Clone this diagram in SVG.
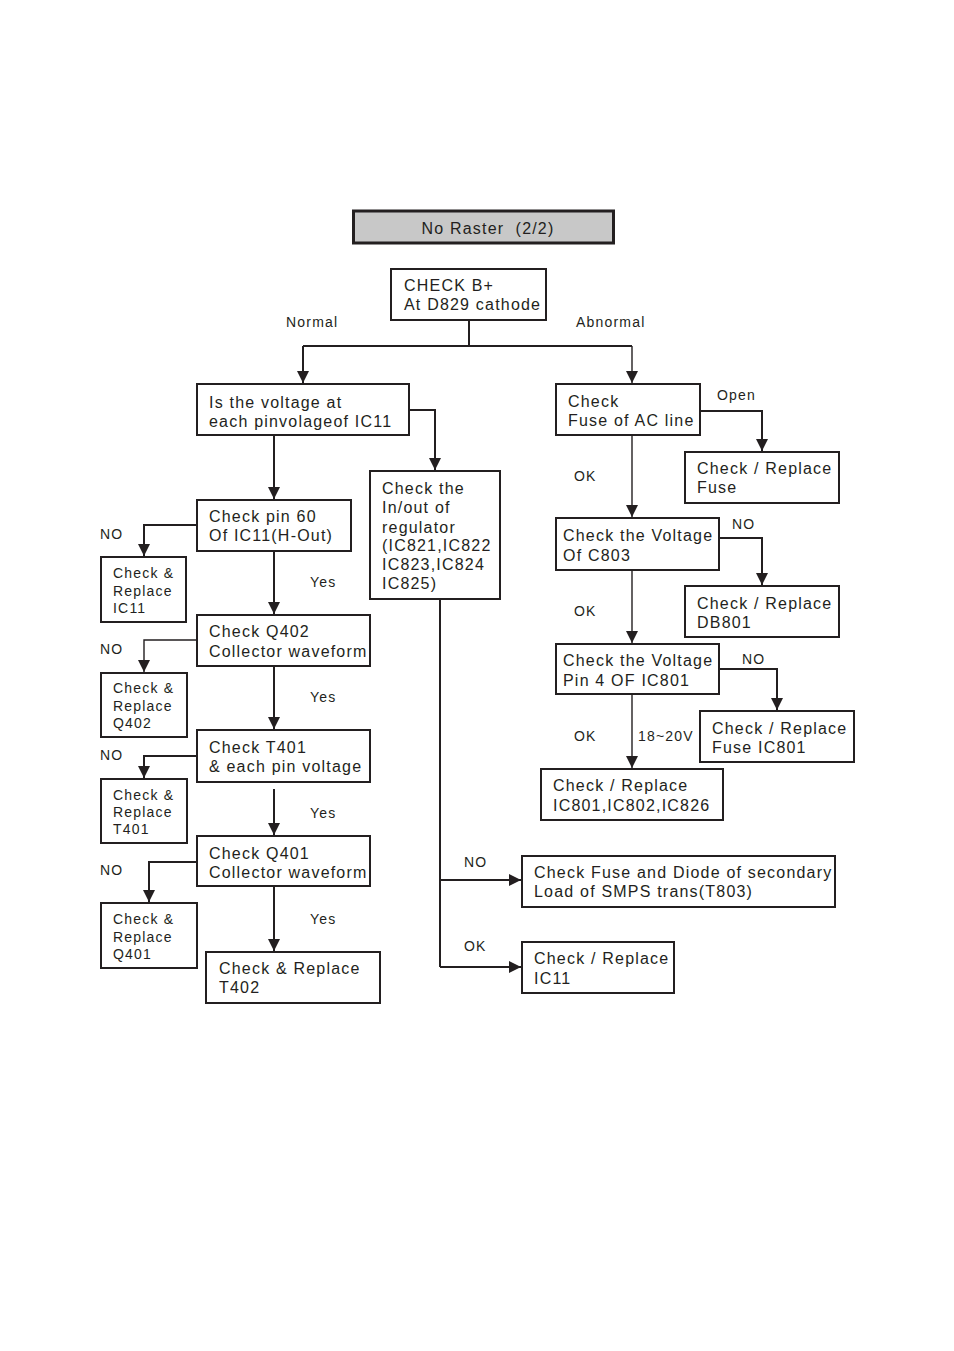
<svg xmlns="http://www.w3.org/2000/svg" width="954" height="1351" viewBox="0 0 954 1351">
<style>
.bx{fill:#fff;stroke:#231f20;stroke-width:2}
.t{font-family:"Liberation Sans",Arial,sans-serif;font-size:16px;letter-spacing:1.2px;fill:#231f20}
.s{font-family:"Liberation Sans",Arial,sans-serif;font-size:14px;letter-spacing:1.2px;fill:#231f20}
.c{fill:none;stroke:#231f20;stroke-width:2}
.cn{fill:none;stroke:#231f20;stroke-width:1.4}
</style>
<defs>
<marker id="ah" markerUnits="userSpaceOnUse" markerWidth="12" markerHeight="12" refX="12" refY="6" orient="auto">
<path d="M0,0 L12,6 L0,12 z" fill="#231f20"/>
</marker>
</defs>
<rect width="954" height="1351" fill="#fff"/>

<g id="title">
<rect x="353.5" y="211" width="260" height="32" fill="#c8c8c8" stroke="#231f20" stroke-width="3"/>
<text class="t" x="488" y="234" text-anchor="middle" style="white-space:pre">No Raster  (2/2)</text>
</g>

<g id="checkB">
<rect class="bx" x="391" y="269" width="155" height="51"/>
<text class="t" x="404" y="291">CHECK B+</text>
<text class="t" x="404" y="310">At D829 cathode</text>
</g>

<g id="isVoltage">
<rect class="bx" x="197" y="384" width="212" height="51"/>
<text class="t" x="209" y="408">Is the voltage at</text>
<text class="t" x="209" y="427">each pinvolageof IC11</text>
</g>

<g id="regulator">
<rect class="bx" x="370" y="471" width="130" height="128"/>
<text class="t" x="382" y="494">Check the</text>
<text class="t" x="382" y="513">In/out of</text>
<text class="t" x="382" y="533">regulator</text>
<text class="t" x="382" y="551">(IC821,IC822</text>
<text class="t" x="382" y="570">IC823,IC824</text>
<text class="t" x="382" y="589">IC825)</text>
</g>

<g id="pin60">
<rect class="bx" x="197" y="500" width="154" height="51"/>
<text class="t" x="209" y="522">Check pin 60</text>
<text class="t" x="209" y="541">Of IC11(H-Out)</text>
</g>

<g id="replIC11">
<rect class="bx" x="101" y="557" width="85" height="65"/>
<text class="s" x="113" y="578">Check &amp;</text>
<text class="s" x="113" y="596">Replace</text>
<text class="s" x="113" y="613">IC11</text>
</g>

<g id="q402">
<rect class="bx" x="197" y="615" width="173" height="51"/>
<text class="t" x="209" y="637">Check Q402</text>
<text class="t" x="209" y="657">Collector waveform</text>
</g>

<g id="replQ402">
<rect class="bx" x="101" y="673" width="86" height="64"/>
<text class="s" x="113" y="693">Check &amp;</text>
<text class="s" x="113" y="711">Replace</text>
<text class="s" x="113" y="728">Q402</text>
</g>

<g id="t401">
<rect class="bx" x="197" y="730" width="173" height="52"/>
<text class="t" x="209" y="753">Check T401</text>
<text class="t" x="209" y="772">&amp; each pin voltage</text>
</g>

<g id="replT401">
<rect class="bx" x="101" y="779" width="86" height="64"/>
<text class="s" x="113" y="800">Check &amp;</text>
<text class="s" x="113" y="817">Replace</text>
<text class="s" x="113" y="834">T401</text>
</g>

<g id="q401">
<rect class="bx" x="197" y="836" width="173" height="50"/>
<text class="t" x="209" y="859">Check Q401</text>
<text class="t" x="209" y="878">Collector waveform</text>
</g>

<g id="replQ401">
<rect class="bx" x="101" y="903" width="96" height="65"/>
<text class="s" x="113" y="924">Check &amp;</text>
<text class="s" x="113" y="942">Replace</text>
<text class="s" x="113" y="959">Q401</text>
</g>

<g id="t402">
<rect class="bx" x="206" y="952" width="174" height="51"/>
<text class="t" x="219" y="974">Check &amp; Replace</text>
<text class="t" x="219" y="993">T402</text>
</g>

<g id="fuseAC">
<rect class="bx" x="556" y="384" width="144" height="51"/>
<text class="t" x="568" y="407">Check</text>
<text class="t" x="568" y="426">Fuse of AC line</text>
</g>

<g id="replFuse">
<rect class="bx" x="685" y="452" width="154" height="51"/>
<text class="t" x="697" y="474">Check / Replace</text>
<text class="t" x="697" y="493">Fuse</text>
</g>

<g id="c803">
<rect class="bx" x="556" y="518" width="163" height="52"/>
<text class="t" x="563" y="541">Check the Voltage</text>
<text class="t" x="563" y="561">Of C803</text>
</g>

<g id="replDB801">
<rect class="bx" x="685" y="586" width="154" height="51"/>
<text class="t" x="697" y="609">Check / Replace</text>
<text class="t" x="697" y="628">DB801</text>
</g>

<g id="pin4">
<rect class="bx" x="556" y="644" width="163" height="50"/>
<text class="t" x="563" y="666">Check the Voltage</text>
<text class="t" x="563" y="686">Pin 4 OF IC801</text>
</g>

<g id="replFuseIC801">
<rect class="bx" x="700" y="711" width="154" height="51"/>
<text class="t" x="712" y="734">Check / Replace</text>
<text class="t" x="712" y="753">Fuse IC801</text>
</g>

<g id="replIC801">
<rect class="bx" x="541" y="769" width="182" height="51"/>
<text class="t" x="553" y="791">Check / Replace</text>
<text class="t" x="553" y="811">IC801,IC802,IC826</text>
</g>

<g id="fuseDiode">
<rect class="bx" x="522" y="856" width="313" height="51"/>
<text class="t" x="534" y="878">Check Fuse and Diode of secondary</text>
<text class="t" x="534" y="897">Load of SMPS trans(T803)</text>
</g>

<g id="replIC11b">
<rect class="bx" x="522" y="942" width="152" height="51"/>
<text class="t" x="534" y="964">Check / Replace</text>
<text class="t" x="534" y="984">IC11</text>
</g>

<g id="connectors">
<path class="c" d="M469,320 V346"/>
<path class="c" d="M303,346 H632"/>
<path class="c" d="M303,346 V383" marker-end="url(#ah)"/>
<path class="cn" d="M632,346 V383" marker-end="url(#ah)"/>
<path class="c" d="M409,410 H435 V470" marker-end="url(#ah)"/>
<path class="c" d="M274,435 V499" marker-end="url(#ah)"/>
<path class="c" d="M440,599 V967"/>
<path class="c" d="M440,880 H521" marker-end="url(#ah)"/>
<path class="c" d="M440,967 H521" marker-end="url(#ah)"/>
<path class="c" d="M197,525 H144 V556" marker-end="url(#ah)"/>
<path class="c" d="M274,551 V614" marker-end="url(#ah)"/>
<path class="cn" d="M197,640 H144 V672" marker-end="url(#ah)"/>
<path class="c" d="M274,666 V729" marker-end="url(#ah)"/>
<path class="c" d="M197,756 H144 V778" marker-end="url(#ah)"/>
<path class="c" d="M274,789 V835" marker-end="url(#ah)"/>
<path class="c" d="M197,862 H149 V902" marker-end="url(#ah)"/>
<path class="c" d="M274,886 V951" marker-end="url(#ah)"/>
<path class="c" d="M700,411 H762 V451" marker-end="url(#ah)"/>
<path class="cn" d="M632,435 V517" marker-end="url(#ah)"/>
<path class="c" d="M719,538 H762 V585" marker-end="url(#ah)"/>
<path class="cn" d="M632,570 V643" marker-end="url(#ah)"/>
<path class="c" d="M719,669 H777 V710" marker-end="url(#ah)"/>
<path class="cn" d="M632,694 V768" marker-end="url(#ah)"/>
</g>

<g id="labels">
<text class="s" x="286" y="327">Normal</text>
<text class="s" x="576" y="327">Abnormal</text>
<text class="s" x="100" y="539">NO</text>
<text class="s" x="310" y="587">Yes</text>
<text class="s" x="100" y="654">NO</text>
<text class="s" x="310" y="702">Yes</text>
<text class="s" x="100" y="760">NO</text>
<text class="s" x="310" y="818">Yes</text>
<text class="s" x="100" y="875">NO</text>
<text class="s" x="310" y="924">Yes</text>
<text class="s" x="464" y="867">NO</text>
<text class="s" x="464" y="951">OK</text>
<text class="s" x="717" y="400">Open</text>
<text class="s" x="574" y="481">OK</text>
<text class="s" x="732" y="529">NO</text>
<text class="s" x="574" y="616">OK</text>
<text class="s" x="742" y="664">NO</text>
<text class="s" x="574" y="741">OK</text>
<text class="s" x="638" y="741" letter-spacing="0">18~20V</text>
</g>
</svg>
